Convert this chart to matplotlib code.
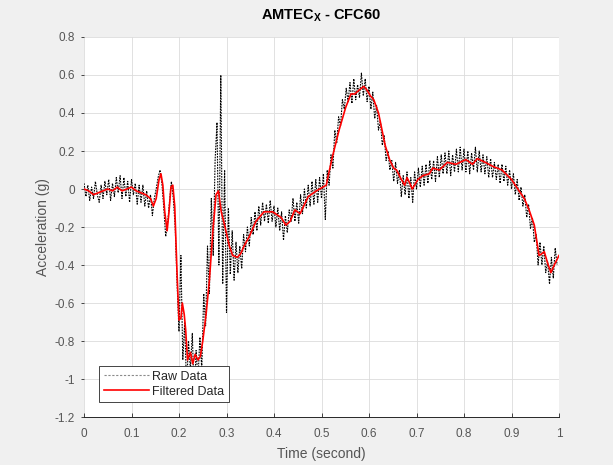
import numpy as np
import matplotlib.pyplot as plt

plt.rcParams['font.family'] = ['Liberation Sans', 'DejaVu Sans']

# Filtered (CFC60) signal
filt_time = [0.000, 0.010, 0.020, 0.030, 0.040, 0.050, 0.060, 0.070, 0.080, 0.090,
             0.100, 0.110, 0.120, 0.130, 0.140, 0.146, 0.152, 0.158, 0.162, 0.166,
             0.170, 0.175, 0.179, 0.183, 0.187, 0.191, 0.196, 0.200, 0.204, 0.207,
             0.211, 0.214, 0.218, 0.224, 0.229, 0.234, 0.240, 0.245, 0.250, 0.257,
             0.264, 0.271, 0.278, 0.283, 0.289, 0.296, 0.306, 0.313, 0.323, 0.330,
             0.337, 0.348, 0.362, 0.379, 0.397, 0.415, 0.425, 0.434, 0.444, 0.455,
             0.472, 0.489, 0.503, 0.510, 0.515, 0.524, 0.537, 0.551, 0.562, 0.570,
             0.579, 0.589, 0.596, 0.603, 0.610, 0.620, 0.634, 0.644, 0.652, 0.658,
             0.666, 0.675, 0.680, 0.686, 0.691, 0.703, 0.713, 0.727, 0.734, 0.748,
             0.765, 0.783, 0.804, 0.818, 0.828, 0.845, 0.860, 0.880, 0.900, 0.916,
             0.927, 0.937, 0.948, 0.958, 0.964, 0.969, 0.976, 0.983, 0.990, 1.000]
filt_accel = [0.00, -0.01, -0.03, -0.02, -0.01, 0.00, -0.01, 0.01, -0.01, 0.00,
              0.01, -0.01, -0.02, -0.03, -0.05, -0.09, -0.05, 0.05, 0.08, 0.02,
              -0.12, -0.22, -0.12, 0.01, 0.02, -0.09, -0.45, -0.69, -0.68, -0.60,
              -0.66, -0.74, -0.90, -0.86, -0.92, -0.87, -0.90, -0.88, -0.80, -0.66,
              -0.48, -0.23, -0.03, -0.01, -0.12, -0.19, -0.30, -0.35, -0.36, -0.34,
              -0.30, -0.25, -0.17, -0.12, -0.12, -0.15, -0.19, -0.17, -0.11, -0.13,
              -0.04, -0.01, 0.01, 0.02, 0.08, 0.18, 0.31, 0.43, 0.50, 0.50,
              0.52, 0.54, 0.52, 0.49, 0.47, 0.40, 0.23, 0.15, 0.11, 0.10,
              0.06, 0.02, 0.06, 0.03, 0.00, 0.05, 0.07, 0.08, 0.11, 0.10,
              0.14, 0.13, 0.155, 0.13, 0.16, 0.14, 0.12, 0.10, 0.05, -0.01,
              -0.05, -0.11, -0.19, -0.35, -0.34, -0.33, -0.39, -0.44, -0.40, -0.35]

raw_dt = 0.004
raw_accel = [
    0.03, -0.04, 0.02, -0.06, 0.01, -0.05, 0.04, -0.03, -0.07, 0.02,
    -0.05, 0.04, -0.03, 0.05, -0.06, 0.03, -0.04, 0.06, -0.02, 0.07,
    -0.05, 0.06, -0.04, 0.04, -0.07, 0.05, -0.03, 0.03, -0.08, 0.02,
    -0.07, 0.02, -0.09, -0.01, -0.10, -0.03, -0.14, -0.05, 0.00, 0.06,
    0.10, 0.03, -0.10, -0.25, -0.18, -0.07, 0.04, -0.05, -0.20, -0.50,
    -0.75, -0.35, -0.90, -0.70, -1.05, -0.80, -0.95, -0.76, -1.10, -0.85,
    -1.00, -0.78, -0.95, -0.55, -0.72, -0.30, -0.55, -0.05, -0.35, 0.15,
    0.35, -0.40, 0.60, -0.50, 0.10, -0.65, -0.10, -0.45, -0.22, -0.48,
    -0.28, -0.44, -0.30, -0.42, -0.24, -0.33, -0.20, -0.30, -0.15, -0.24,
    -0.12, -0.22, -0.09, -0.19, -0.07, -0.17, -0.08, -0.18, -0.06, -0.17,
    -0.09, -0.20, -0.10, -0.22, -0.12, -0.27, -0.14, -0.23, -0.11, -0.17,
    -0.05, -0.17, -0.07, -0.18, -0.03, -0.13, 0.00, -0.10, 0.02, -0.09,
    0.04, -0.08, 0.05, -0.07, 0.06, -0.05, 0.08, -0.16, 0.10, 0.02,
    0.18, 0.11, 0.31, 0.24, 0.38, 0.33, 0.47, 0.42, 0.53, 0.46,
    0.56, 0.45, 0.58, 0.47, 0.55, 0.48, 0.61, 0.49, 0.58, 0.46,
    0.54, 0.42, 0.51, 0.37, 0.44, 0.31, 0.36, 0.23, 0.28, 0.15,
    0.20, 0.10, 0.15, 0.04, 0.14, 0.03, 0.10, -0.04, 0.07, -0.03,
    0.09, -0.05, 0.06, -0.07, 0.09, 0.00, 0.11, 0.01, 0.12, 0.02,
    0.13, 0.03, 0.15, 0.05, 0.15, 0.04, 0.17, 0.06, 0.18, 0.08,
    0.19, 0.08, 0.20, 0.07, 0.18, 0.09, 0.21, 0.09, 0.22, 0.10,
    0.21, 0.09, 0.20, 0.08, 0.19, 0.10, 0.22, 0.09, 0.20, 0.09,
    0.18, 0.08, 0.17, 0.06, 0.16, 0.06, 0.14, 0.05, 0.13, 0.03,
    0.13, 0.04, 0.12, 0.02, 0.10, 0.00, 0.08, -0.03, 0.05, -0.06,
    0.01, -0.09, -0.03, -0.15, -0.08, -0.21, -0.15, -0.28, -0.24, -0.40,
    -0.28, -0.40, -0.30, -0.44, -0.38, -0.50, -0.36, -0.47, -0.31, -0.40,
]
raw_time = np.arange(len(raw_accel)) * raw_dt

x_ticks = [0, 0.1, 0.2, 0.3, 0.4, 0.5, 0.6, 0.7, 0.8, 0.9, 1]
x_labels = ["0", "0.1", "0.2", "0.3", "0.4", "0.5", "0.6", "0.7", "0.8", "0.9", "1"]
y_ticks = [-1.2, -1.0, -0.8, -0.6, -0.4, -0.2, 0, 0.2, 0.4, 0.6, 0.8]
y_labels = ["-1.2", "-1", "-0.8", "-0.6", "-0.4", "-0.2", "0", "0.2", "0.4", "0.6", "0.8"]

TEXT = "#262626"
LABEL = "#555555"

fig = plt.figure(figsize=(6.13, 4.65), dpi=100, facecolor="#f0f0f0")
# axes box: x 84..559 px, y 37..417 px
ax = fig.add_axes([84 / 613, (465 - 417) / 465, 475 / 613, 380 / 465])
ax.set_facecolor("white")

ax.plot(raw_time, raw_accel, color="black", linestyle=(0, (1.5, 1.0)),
        linewidth=0.8, label="Raw Data")
ax.plot(filt_time, filt_accel, color="red", linewidth=1.2, label="Filtered Data")

ax.set_xlim(0, 1)
ax.set_ylim(-1.2, 0.8)
ax.set_xticks(x_ticks)
ax.set_xticklabels(x_labels)
ax.set_yticks(y_ticks)
ax.set_yticklabels(y_labels)
ax.grid(True, color="#dcdcdc", linewidth=0.6)
ax.set_axisbelow(True)
ax.tick_params(axis="x", direction="in", length=3, width=0.6, colors=TEXT,
               labelsize=8.5, labelcolor=LABEL, pad=8)
ax.tick_params(axis="y", direction="out", length=2.5, width=0.6, colors=TEXT,
               labelsize=8.5, labelcolor=LABEL, pad=4)
for side in ["top", "right", "left"]:
    ax.spines[side].set_visible(False)
ax.spines["bottom"].set_color(TEXT)
ax.spines["bottom"].set_linewidth(0.7)

ax.set_title("AMTEC$_{\\mathregular{X}}$ - CFC60", fontsize=10.5, fontweight="bold",
             color="black", pad=13)
ax.set_xlabel("Time (second)", fontsize=10, color=LABEL, labelpad=5)
ax.set_ylabel("Acceleration (g)", fontsize=10, color=LABEL, labelpad=3)

leg = ax.legend(loc="lower left", bbox_to_anchor=(0.032, 0.039), fontsize=9,
                handlelength=3.6, handletextpad=0.3, fancybox=False,
                framealpha=1.0, edgecolor=TEXT, borderpad=0.35,
                labelspacing=0.25, borderaxespad=0)
leg.get_frame().set_linewidth(0.6)
leg.get_lines()[0].set_color("#8a8a8a")
leg.get_lines()[0].set_linestyle((0, (2, 1.5)))
for txt in leg.get_texts():
    txt.set_color(TEXT)

fig.savefig("out.png", dpi=100, facecolor=fig.get_facecolor())
